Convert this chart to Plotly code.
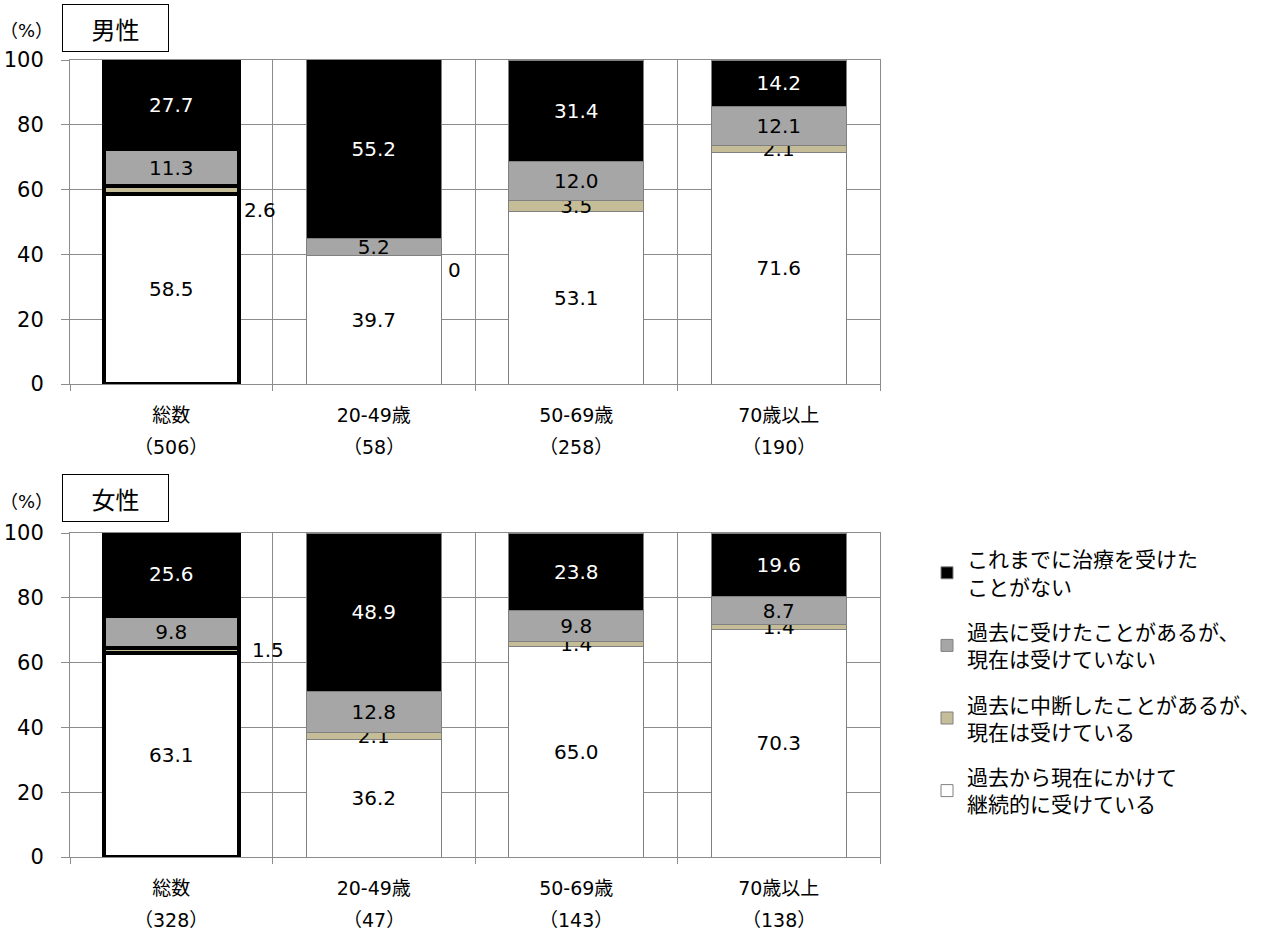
import plotly.graph_objects as go
from plotly.subplots import make_subplots

# Categories and sample sizes
categories = ["総数", "20-49歳", "50-69歳", "70歳以上"]
n_men = ["（506）", "（58）", "（258）", "（190）"]
n_women = ["（328）", "（47）", "（143）", "（138）"]

# Series names (stack order bottom -> top)
series_names = [
    "過去から現在にかけて<br>継続的に受けている",
    "過去に中断したことがあるが、<br>現在は受けている",
    "過去に受けたことがあるが、<br>現在は受けていない",
    "これまでに治療を受けた<br>ことがない",
]

# Men (%)
men_continuous = [58.5, 39.7, 53.1, 71.6]
men_interrupted = [2.6, 0.0, 3.5, 2.1]
men_past_only = [11.3, 5.2, 12.0, 12.1]
men_never = [27.7, 55.2, 31.4, 14.2]

# Women (%)
women_continuous = [63.1, 36.2, 65.0, 70.3]
women_interrupted = [1.5, 2.1, 1.4, 1.4]
women_past_only = [9.8, 12.8, 9.8, 8.7]
women_never = [25.6, 48.9, 23.8, 19.6]

colors = ["#FFFFFF", "#C4BD97", "#A6A6A6", "#000000"]
text_colors = ["#000000", "#000000", "#000000", "#FFFFFF"]

FONT = "DejaVu Sans, Noto Sans CJK JP"
CJK = "Noto Sans CJK JP"
GRID = "#8C8C8C"

fig = make_subplots(rows=2, cols=1, vertical_spacing=0.16)

men = [men_continuous, men_interrupted, men_past_only, men_never]
women = [women_continuous, women_interrupted, women_past_only, women_never]

# Segment labels drawn beside the bar instead of inside it: (series, category)
outside_men = {(1, 0), (1, 1)}
outside_women = {(1, 0)}

# The "総数" column gets a heavy black outline
line_colors = ["#000000", "#808080", "#808080", "#808080"]
line_widths = [4, 1, 1, 1]

# Point order: the legend swatch takes its style from a trace's first point,
# so the thin-outlined columns go first; the axis keeps the category order.
order = [1, 2, 3, 0]
legend_rank = [4, 3, 2, 1]

for row, data, outside in [(1, men, outside_men), (2, women, outside_women)]:
    for s, vals in enumerate(data):
        texts = ["" if (s, c) in outside else f"{vals[c]:.1f}" for c in order]
        fig.add_trace(
            go.Bar(
                x=[categories[c] for c in order],
                y=[vals[c] for c in order],
                name=series_names[s],
                legendgroup=str(s),
                legendrank=legend_rank[s],
                showlegend=(row == 2),
                marker=dict(color=colors[s],
                            line=dict(color=[line_colors[c] for c in order],
                                      width=[line_widths[c] for c in order])),
                text=texts,
                texttemplate="%{text}",
                textposition="inside",
                insidetextanchor="middle",
                textangle=0,
                textfont=dict(family=FONT, size=20, color=text_colors[s]),
                hoverinfo="skip",
            ),
            row=row, col=1,
        )

# Labels placed next to the bars
side_labels = [
    (1, 0.44, men_continuous[0] - 4.8, f"{men_interrupted[0]:.1f}"),
    (1, 1.40, 35.2, f"{men_interrupted[1]:.0f}"),
    (2, 0.478, women_continuous[0] + 0.8, f"{women_interrupted[0]:.1f}"),
]
for row, xv, yv, t in side_labels:
    fig.add_annotation(x=xv, y=yv, text=t, showarrow=False,
                       xanchor="center", yanchor="middle",
                       xref="x" if row == 1 else "x2",
                       yref="y" if row == 1 else "y2",
                       font=dict(family=FONT, size=20, color="#000000"))

xdom = [70 / 1277, 880 / 1277]
ydoms = {1: [1 - 384 / 932, 1 - 60 / 932], 2: [1 - 857 / 932, 1 - 533 / 932]}

for row in (1, 2):
    fig.update_xaxes(
        row=row, col=1, domain=xdom, type="category",
        categoryorder="array", categoryarray=categories,
        range=[-0.5, 3.5], tickson="boundaries",
        showgrid=True, gridcolor=GRID, gridwidth=1,
        showline=True, linecolor=GRID, linewidth=1, mirror=True,
        ticks="outside", ticklen=6, tickcolor=GRID,
        ticklabelstandoff=14,
        tickfont=dict(family=FONT, size=19, color="#000000"),
        automargin=False, fixedrange=True,
    )
    fig.update_yaxes(
        row=row, col=1, domain=ydoms[row], range=[0, 100], dtick=20,
        showgrid=True, gridcolor=GRID, gridwidth=1,
        showline=True, linecolor=GRID, linewidth=1, mirror=True,
        ticks="outside", ticklen=8, tickcolor=GRID,
        ticklabelstandoff=13,
        tickfont=dict(family=FONT, size=21, color="#000000"),
        zeroline=False, automargin=False, fixedrange=True,
    )

# Sample sizes under the category names
for row, ns in [(1, n_men), (2, n_women)]:
    y_paper = 1 - (447 if row == 1 else 920) / 932
    for c, t in enumerate(ns):
        fig.add_annotation(x=c, y=y_paper, xref="x" if row == 1 else "x2",
                           yref="paper", text=t, showarrow=False,
                           xanchor="center", yanchor="middle",
                           font=dict(family=FONT, size=19, color="#000000"))

# Panel titles and unit labels
for yc, title in [(28, "男性"), (498, "女性")]:
    fig.add_annotation(x=115.5 / 1277, y=1 - yc / 932, xref="paper", yref="paper",
                       text=title, showarrow=False, width=103, height=44,
                       xanchor="center", yanchor="middle",
                       bordercolor="#000000", borderwidth=1, borderpad=1,
                       bgcolor="#FFFFFF",
                       font=dict(family=CJK, size=24, color="#000000"))
    fig.add_annotation(x=26 / 1277, y=1 - (yc + 3) / 932, xref="paper",
                       yref="paper", text="（%）", showarrow=False,
                       xanchor="center", yanchor="middle",
                       font=dict(family=FONT, size=18, color="#000000"))

fig.update_layout(
    width=1277, height=932,
    margin=dict(l=0, r=0, t=0, b=0, autoexpand=False),
    barmode="stack", bargap=0.333,
    plot_bgcolor="#FFFFFF", paper_bgcolor="#FFFFFF",
    font=dict(family=FONT, color="#000000"),
    uniformtext=dict(minsize=20, mode="show"),
    legend=dict(
        x=927 / 1277, y=1 - 539 / 932, xanchor="left", yanchor="top",
        traceorder="grouped", tracegroupgap=15,
        font=dict(family=CJK, size=21, color="#000000"),
        itemwidth=30, bgcolor="rgba(0,0,0,0)",
    ),
)

fig.write_html("out.html")
